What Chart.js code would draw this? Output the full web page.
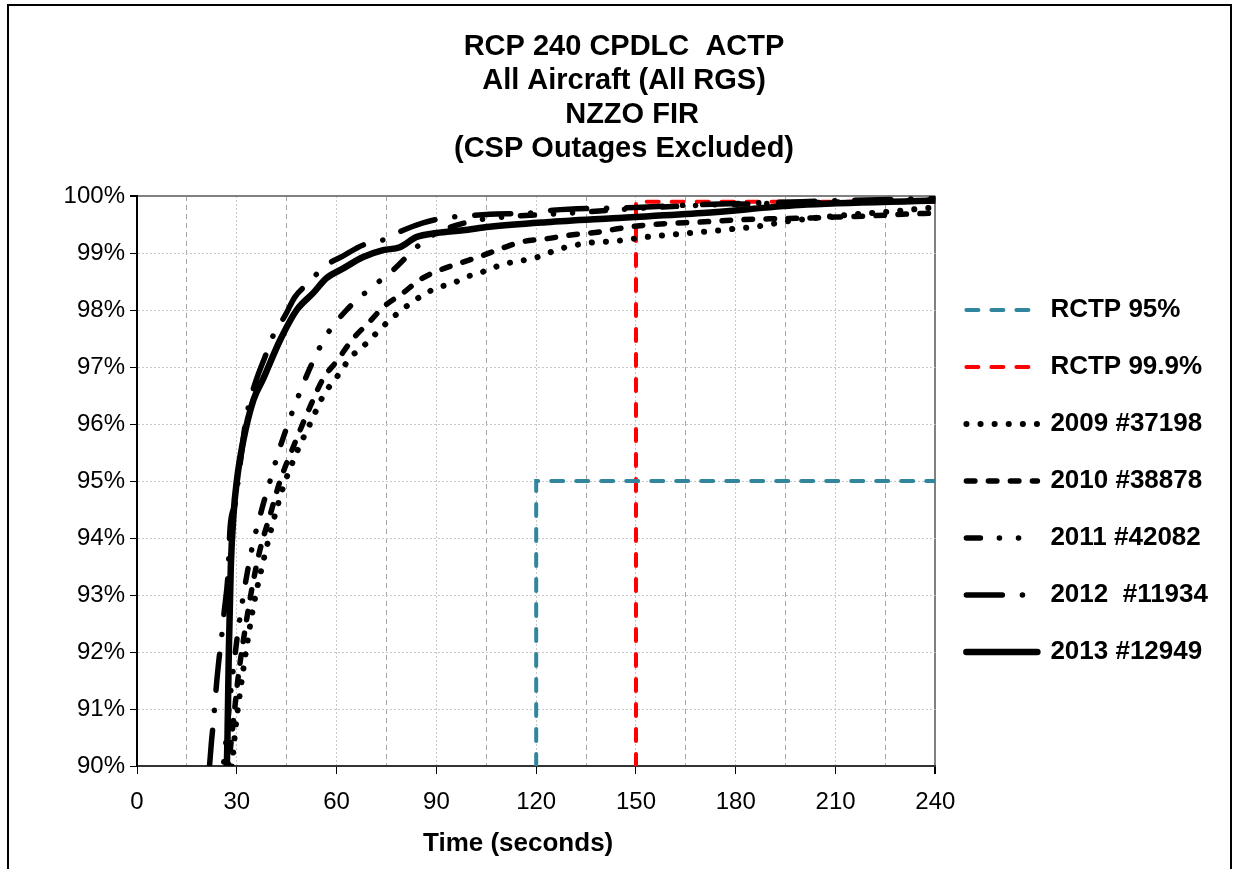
<!DOCTYPE html>
<html>
<head>
<meta charset="utf-8">
<title>RCP 240 CPDLC ACTP - NZZO FIR</title>
<script src="https://cdn.jsdelivr.net/npm/chart.js@4.4.0/dist/chart.umd.min.js"></script>
<style>
    html, body { margin: 0; padding: 0; background: #fff; }
    #frame { position: absolute; left: 7px; top: 4px; width: 1221px; height: 880px; border: 2px solid #000; }
    #actpChart { position: absolute; left: 0; top: 0; }
</style>
</head>
<body>
<div id="frame"></div>
<canvas id="actpChart" width="1238" height="869"></canvas>
<script>
// ACTP cumulative distribution

const titleLines = ['RCP 240 CPDLC  ACTP', 'All Aircraft (All RGS)', '  NZZO FIR', '(CSP Outages Excluded)'];
const seriesLabels = ['RCTP 95%', 'RCTP 99.9%', '2009 #37198', '2010 #38878', '2011 #42082', '2012  #11934', '2013 #12949'];

// time in seconds / cumulative percentage
const tRctp95 = [120, 120, 240];
const pRctp95 = [90, 95, 95];
const tRctp999 = [150, 150, 240];
const pRctp999 = [90, 99.9, 99.9];

const t2009 = [27.5, 28.5, 29.5, 31, 33, 35, 38, 41, 44, 48, 52, 56.5, 59, 61.6, 64, 67.4, 70.4, 73.4, 76.7, 80, 83.3, 87, 90.8, 95, 99, 103, 110, 120, 127, 136, 144, 153, 162, 170, 179, 187, 196, 210, 225, 240];
const p2009 = [89.5, 90, 90.6, 91.3, 92.1, 92.8, 93.6, 94.3, 94.9, 95.5, 96.0, 96.55, 96.74, 96.95, 97.16, 97.33, 97.5, 97.68, 97.86, 98.02, 98.16, 98.3, 98.4, 98.47, 98.58, 98.65, 98.8, 98.92, 99.07, 99.18, 99.21, 99.28, 99.33, 99.37, 99.42, 99.47, 99.56, 99.65, 99.72, 99.8];

const t2010 = [26.5, 27.5, 29, 30.5, 32.5, 34.5, 37, 40, 43, 47, 52, 56, 60, 65, 70, 74, 80, 85, 91, 98, 104, 110, 116, 123, 131, 139, 146, 153, 160, 168, 180, 190, 200, 210, 220, 230, 240];
const p2010 = [89.5, 90, 90.8, 91.6, 92.4, 93.1, 93.8, 94.4, 95.0, 95.6, 96.3, 96.8, 97.1, 97.5, 97.8, 98.05, 98.3, 98.53, 98.7, 98.84, 98.96, 99.09, 99.2, 99.25, 99.32, 99.37, 99.44, 99.49, 99.52, 99.54, 99.58, 99.6, 99.61, 99.63, 99.65, 99.68, 99.7];

const t2011 = [25, 26.5, 28, 30, 32, 34.5, 37.5, 40, 42.5, 46, 49, 52.5, 57, 63, 70, 77, 84, 90, 100, 110, 130, 150, 170, 200, 240];
const p2011 = [89.5, 90.3, 91.2, 92.2, 93.0, 93.8, 94.5, 95.0, 95.5, 96.1, 96.56, 97.05, 97.56, 98.0, 98.37, 98.7, 99.1, 99.35, 99.55, 99.63, 99.7, 99.78, 99.84, 99.88, 99.93];

const t2012 = [21.8, 22.3, 23, 24, 24.7, 25.5, 26.2, 27.4, 28, 29.5, 31, 32.8, 34.6, 36, 38.5, 41, 44.5, 47.5, 52, 56, 62, 68, 74, 80, 86, 92, 99, 106, 118, 125, 150, 170, 200, 240];
const p2012 = [90, 90.37, 90.8, 91.5, 91.9, 92.3, 92.7, 93.4, 94.2, 94.6, 95.3, 96.1, 96.54, 96.8, 97.18, 97.56, 97.9, 98.23, 98.5, 98.75, 98.95, 99.14, 99.23, 99.4, 99.53, 99.61, 99.65, 99.68, 99.7, 99.75, 99.8, 99.85, 99.9, 99.96];

const t2013 = [26.8, 27.2, 27.6, 28.2, 29, 30, 32, 35, 38, 43, 48, 53, 57, 62, 68, 74, 79, 84, 90, 98, 106, 123, 143, 170, 199, 240];
const p2013 = [89.5, 90.5, 92, 93.5, 94.4, 95.0, 95.72, 96.42, 96.8, 97.47, 98.0, 98.3, 98.56, 98.73, 98.93, 99.05, 99.1, 99.28, 99.35, 99.4, 99.46, 99.54, 99.61, 99.7, 99.84, 99.92];

const FONT = '"Liberation Sans", Arial, sans-serif';

function toPoints(ts, ps) {
    return ts.map((t, i) => ({ x: t, y: ps[i] }));
}

function curve(label, ts, ps, width, dash) {
    return {
        label: label,
        data: toPoints(ts, ps),
        borderColor: '#000',
        backgroundColor: '#000',
        borderWidth: width,
        borderDash: dash,
        borderCapStyle: 'round',
        cubicInterpolationMode: 'monotone',
        pointRadius: 0,
        clip: 0,
        order: 0
    };
}

function limitLine(label, ts, ps, color) {
    return {
        label: label,
        data: toPoints(ts, ps),
        borderColor: color,
        backgroundColor: color,
        borderWidth: 4,
        borderDash: [12, 13],
        borderCapStyle: 'round',
        tension: 0,
        pointRadius: 0,
        clip: 0,
        order: 1
    };
}

const isMajor = v => v % 30 === 0;

const ctx = document.getElementById('actpChart');
new Chart(ctx, {
    type: 'line',
    data: {
        datasets: [
            limitLine(seriesLabels[0], tRctp95, pRctp95, '#31859C'),
            limitLine(seriesLabels[1], tRctp999, pRctp999, '#FF0000'),
            curve(seriesLabels[2], t2009, p2009, 6, [0.1, 14]),
            curve(seriesLabels[3], t2010, p2010, 5.5, [8.5, 13.5]),
            curve(seriesLabels[4], t2011, p2011, 5.5, [14, 19, 0.1, 19, 0.1, 19]),
            curve(seriesLabels[5], t2012, p2012, 5.5, [36, 20, 0.1, 20]),
            curve(seriesLabels[6], t2013, p2013, 6.5, [])
        ]
    },
    options: {
        responsive: false,
        animation: false,
        devicePixelRatio: 1,
        layout: { padding: { left: 30, right: 20, top: 0, bottom: 0 } },
        plugins: {
            title: {
                display: true,
                text: titleLines,
                color: '#000',
                font: { family: FONT, size: 29, weight: 'bold', lineHeight: 34 / 29 },
                padding: { top: 30, bottom: 30 }
            },
            legend: {
                position: 'right',
                fullSize: false,
                align: 'center',
                labels: {
                    usePointStyle: true,
                    pointStyle: 'line',
                    pointStyleWidth: 71,
                    padding: 31,
                    color: '#000',
                    font: { family: FONT, size: 26, weight: 'bold' },
                    generateLabels: function(chart) {
                        return chart.data.datasets.map(function(ds, i) {
                            return {
                                text: ds.label,
                                datasetIndex: i,
                                strokeStyle: ds.borderColor,
                                fillStyle: ds.borderColor,
                                fontColor: '#000',
                                lineWidth: ds.borderWidth,
                                lineDash: ds.borderDash,
                                lineDashOffset: 0,
                                lineCap: 'round',
                                lineJoin: 'round',
                                pointStyle: 'line',
                                hidden: false
                            };
                        });
                    }
                }
            },
            tooltip: { enabled: false }
        },
        scales: {
            x: {
                type: 'linear',
                min: 0,
                max: 240,
                ticks: {
                    stepSize: 15,
                    autoSkip: false,
                    maxRotation: 0,
                    padding: 14,
                    color: '#000',
                    font: { family: FONT, size: 24 },
                    callback: v => isMajor(v) ? v : ''
                },
                grid: {
                    color: c => c.tick && c.tick.value === 240 ? '#808080' : (c.tick && isMajor(c.tick.value) ? '#c8c8c8' : '#a6a6a6'),
                    lineWidth: c => c.tick && c.tick.value === 240 ? 2 : 1,
                    tickColor: c => c.tick && isMajor(c.tick.value) ? '#000' : 'rgba(0,0,0,0)',
                    tickLength: 8
                },
                border: {
                    color: '#333',
                    width: 2,
                    dash: c => !c.tick || c.tick.value === 240 ? [] : (isMajor(c.tick.value) ? [2, 2] : [5, 4])
                },
                title: {
                    display: true,
                    // trailing spaces nudge the centred title left, as in the original
                    text: 'Time (seconds)     ',
                    color: '#000',
                    font: { family: FONT, size: 26, weight: 'bold' },
                    padding: { top: 4, bottom: 10 }
                },
                afterFit: s => { s.height = 103; }
            },
            y: {
                type: 'linear',
                position: 'left',
                min: 90,
                max: 100,
                ticks: {
                    stepSize: 1,
                    padding: 5,
                    color: '#000',
                    font: { family: FONT, size: 24 },
                    callback: v => v + '%'
                },
                grid: {
                    color: c => c.tick && c.tick.value === 100 ? '#808080' : '#c8c8c8',
                    lineWidth: c => c.tick && c.tick.value === 100 ? 2 : 1,
                    tickColor: '#000',
                    tickLength: 7
                },
                border: {
                    color: '#000',
                    width: 2,
                    dash: c => !c.tick || c.tick.value === 100 ? [] : [2, 2]
                },
                afterFit: s => { s.width = 107; }
            }
        }
    }
});
</script>
</body>
</html>
